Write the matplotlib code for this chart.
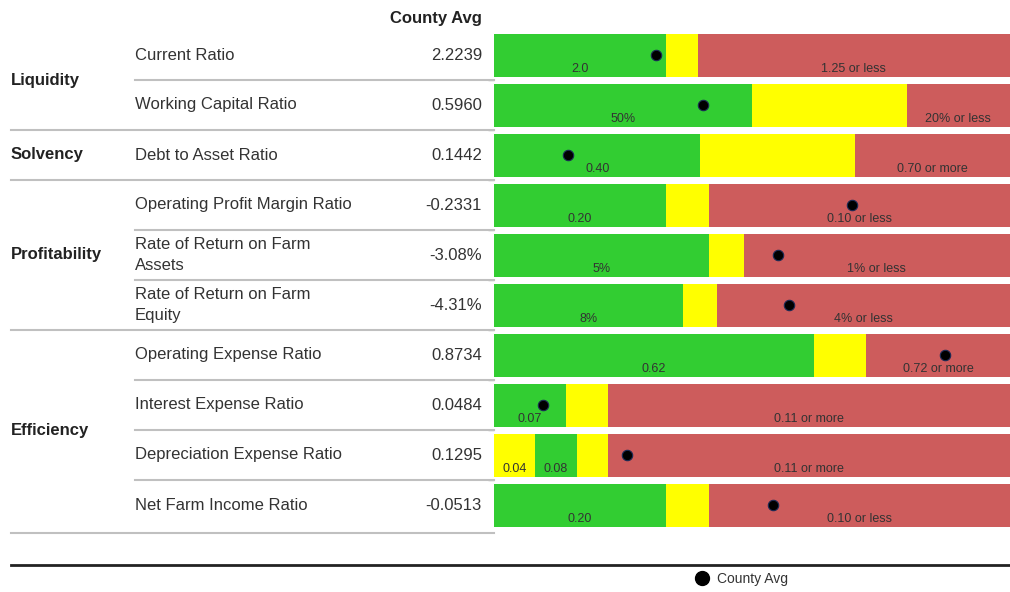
import numpy as np
import matplotlib
matplotlib.use("Agg")
import matplotlib.pyplot as plt
from matplotlib.lines import Line2D
from matplotlib.transforms import blended_transform_factory

plt.rcParams['font.family'] = ['Liberation Sans', 'DejaVu Sans']

# ---------------- data ----------------
categories = ["Liquidity", "Solvency", "Profitability", "Efficiency"]
category_rows = [0.5, 2, 4, 7.5]
metrics = ["Current Ratio", "Working Capital Ratio", "Debt to Asset Ratio",
           "Operating Profit Margin Ratio", "Rate of Return on Farm\nAssets",
           "Rate of Return on Farm\nEquity", "Operating Expense Ratio",
           "Interest Expense Ratio", "Depreciation Expense Ratio",
           "Net Farm Income Ratio"]
county_avg_text = ["2.2239", "0.5960", "0.1442", "-0.2331", "-3.08%", "-4.31%",
                   "0.8734", "0.0484", "0.1295", "-0.0513"]
# segment end positions (percent of bar width)
seg_ends = [[33.3, 39.5, 100], [50, 80, 100], [40, 70, 100], [33.3, 41.7, 100],
            [41.7, 48.4, 100], [36.6, 43.2, 100], [62, 72.1, 100],
            [14, 22, 100], [8, 16, 22, 100], [33.3, 41.7, 100]]
seg_colors = [["G", "Y", "R"]] * 8 + [["Y", "G", "Y", "R"]] + [["G", "Y", "R"]]
seg_labels = [["2.0", "", "1.25 or less"], ["50%", "", "20% or less"],
              ["0.40", "", "0.70 or more"], ["0.20", "", "0.10 or less"],
              ["5%", "", "1% or less"], ["8%", "", "4% or less"],
              ["0.62", "", "0.72 or more"], ["0.07", "", "0.11 or more"],
              ["0.04", "0.08", "", "0.11 or more"], ["0.20", "", "0.10 or less"]]
dot_pos = [31.4, 40.5, 14.3, 69.4, 55.0, 57.2, 87.4, 9.5, 25.8, 54.0]
inner_lines = [0.5, 3.5, 4.5, 6.5, 7.5, 8.5]
group_lines = [1.5, 2.5, 5.5, 9.56]

colors = {"G": "#32CD32", "Y": "#FFFF00", "R": "#CD5C5C"}
text_col = "#333333"

W, H = 1010, 592
fig = plt.figure(figsize=(W / 100, H / 100), dpi=100)

top_px, bot_px = 30, 530
ax = fig.add_axes([494 / W, 1 - bot_px / H, (W - 494) / W, (bot_px - top_px) / H])
n = len(metrics)

bar_h = 0.86
for i in range(n):
    start = 0
    for end, c, lab in zip(seg_ends[i], seg_colors[i], seg_labels[i]):
        ax.barh(i, end - start, left=start, height=bar_h, color=colors[c], linewidth=0)
        if lab:
            ax.text((start + end) / 2, i + 0.27, lab, ha='center', va='center',
                    fontsize=9, color=text_col)
        start = end
ax.plot(dot_pos, range(n), 'o', color='black', markeredgecolor='#1b2a55',
        markersize=7.5, markeredgewidth=0.8, zorder=5)

for s in ax.spines.values():
    s.set_visible(False)
ax.set_xticks([])
ax.set_yticks(sorted(inner_lines + group_lines))
ax.set_yticklabels([])
ax.tick_params(axis='y', length=4, color='#b0b0b0', width=1)
ax.set_xlim(0, 100)
ax.set_ylim(n - 0.5, -0.5)

tr = blended_transform_factory(fig.transFigure, ax.transData)

# table text
fig.text(482 / W, 1 - 18 / H, "County Avg", ha='right', va='center',
         fontsize=12, fontweight='bold', color='#222222')
for cat, r in zip(categories, category_rows):
    ax.text(11 / W, r, cat, transform=tr, ha='left', va='center', fontsize=12,
            fontweight='bold', color='#222222')
for i, (m, v) in enumerate(zip(metrics, county_avg_text)):
    ax.text(135 / W, i, m, transform=tr, ha='left', va='center', fontsize=12,
            color=text_col, linespacing=1.45)
    ax.text(482 / W, i, v, transform=tr, ha='right', va='center', fontsize=12,
            color=text_col)

for y in inner_lines:
    ax.plot([135 / W, 494 / W], [y, y], transform=tr, color='#c0c0c0', lw=1.5,
            clip_on=False)
for y in group_lines:
    ax.plot([11 / W, 494 / W], [y, y], transform=tr, color='#c0c0c0', lw=1.5,
            clip_on=False)

fig.add_artist(Line2D([11 / W, 1.0], [1 - 565 / H] * 2, color='#222222', lw=2))

handle = Line2D([], [], marker='o', linestyle='none', color='black',
                markersize=10)
fig.legend([handle], ["County Avg"], loc='center',
           bbox_to_anchor=(738 / W, 1 - 579 / H), frameon=False, fontsize=10,
           handletextpad=0.1, labelcolor=text_col)

fig.savefig("out.png", dpi=100)
